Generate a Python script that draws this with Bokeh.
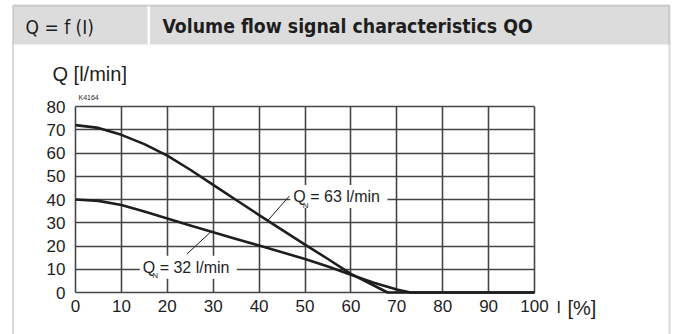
from bokeh.plotting import figure
from bokeh.models import Label, BoxAnnotation, FixedTicker, Range1d, LinearAxis, Grid
from bokeh.embed import file_html
from bokeh.resources import INLINE

# ---- data ----
i_63 = [0, 5, 10, 15, 20, 25, 30, 35, 40, 45, 50, 55, 60, 65, 68, 100]
q_63 = [72, 70.8, 67.8, 63.8, 58.9, 52.8, 46.3, 39.8, 33.3, 26.9, 20.6, 14.4, 8.0, 3.0, 0, 0]

i_32 = [0, 5, 10, 15, 20, 25, 30, 35, 40, 45, 50, 55, 60, 65, 70, 73, 100]
q_32 = [40, 39.4, 37.6, 34.8, 31.8, 28.8, 25.9, 23.0, 20.2, 17.3, 14.4, 11.2, 7.6, 4.2, 1.3, 0, 0]

x_ticks = [0, 10, 20, 30, 40, 50, 60, 70, 80, 90, 100]
y_ticks = [0, 10, 20, 30, 40, 50, 60, 70, 80]

leader_63_x = [46.6, 42.0]
leader_63_y = [41.5, 31.2]
leader_32_x = [24.3, 29.6]
leader_32_y = [16.6, 26.3]

label_63 = "Q  = 63 l/min"
label_32 = "Q  = 32 l/min"
header_left = "Q = f (I)"
header_title = "Volume flow signal characteristics QO"

FONT = "Liberation Sans"
NARROW = "'Liberation Sans Narrow', 'DejaVu Sans Condensed', sans-serif"
INK = "#1e1e1e"
GRID = "#454545"

W, H = 676, 334
# plot area placement on the canvas (pixels): x 0..100 -> 75..534, y 0..80 -> 292..106
PX0, PX1, PY0, PY1 = 75.0, 534.0, 292.0, 106.0
sx = (PX1 - PX0) / 100.0
sy = (PY0 - PY1) / 80.0
x_range = Range1d(-PX0 / sx, (W - PX0) / sx)
y_range = Range1d(-(H - PY0) / sy, PY0 / sy)

p = figure(width=W, height=H, x_range=x_range, y_range=y_range,
           output_backend="svg", toolbar_location=None, title=None,
           x_axis_location=None, y_axis_location=None, min_border=0)
p.background_fill_color = "white"
p.border_fill_color = "white"
p.outline_line_color = None
for r in list(p.center):
    if isinstance(r, Grid):
        p.center.remove(r)

# page frame and header band (screen units, origin bottom-left of the canvas)
p.add_layout(BoxAnnotation(left=13, right=669, top=H - 5, bottom=H - 44,
                           left_units="screen", right_units="screen", top_units="screen", bottom_units="screen",
                           fill_color="#dcdcdc", fill_alpha=1, line_color=None, level="underlay"))
p.add_layout(BoxAnnotation(left=147, right=149.5, top=H - 5, bottom=H - 44,
                           left_units="screen", right_units="screen", top_units="screen", bottom_units="screen",
                           fill_color="white", fill_alpha=1, line_color=None, level="underlay"))
p.add_layout(BoxAnnotation(left=12.5, right=669, top=H - 5, bottom=-20,
                           left_units="screen", right_units="screen", top_units="screen", bottom_units="screen",
                           fill_alpha=0, line_color="#7f7f7f", line_width=2, level="underlay"))

# grid
has_cross = "cross_bounds" in Grid.properties()
if has_cross:
    p.add_layout(Grid(dimension=0, ticker=FixedTicker(ticks=x_ticks), bounds=(0, 100),
                      cross_bounds=(0, 80), grid_line_color=GRID, grid_line_width=1.6))
    p.add_layout(Grid(dimension=1, ticker=FixedTicker(ticks=y_ticks), bounds=(0, 80),
                      cross_bounds=(0, 100), grid_line_color=GRID, grid_line_width=1.6))
else:
    p.segment(x0=x_ticks, y0=[0] * len(x_ticks), x1=x_ticks, y1=[80] * len(x_ticks),
              line_color=GRID, line_width=1.6)
    p.segment(x0=[0] * len(y_ticks), y0=y_ticks, x1=[100] * len(y_ticks), y1=y_ticks,
              line_color=GRID, line_width=1.6)

# axes pinned at the data origin
xa = LinearAxis(fixed_location=0, ticker=FixedTicker(ticks=x_ticks), bounds=(0, 100))
ya = LinearAxis(fixed_location=0, ticker=FixedTicker(ticks=y_ticks), bounds=(0, 80))
for ax in (xa, ya):
    ax.axis_line_color = None
    ax.major_tick_line_color = None
    ax.minor_tick_line_color = None
    ax.major_tick_out = 0
    ax.major_tick_in = 0
    ax.major_label_text_font = FONT
    ax.major_label_text_font_size = "17px"
    ax.major_label_text_color = INK
ya.major_label_standoff = 10
xa.major_label_standoff = 7
p.add_layout(xa, "below")
p.add_layout(ya, "left")

p.line(i_63, q_63, line_color=INK, line_width=2.6, line_join="round")
p.line(i_32, q_32, line_color=INK, line_width=2.6, line_join="round")
p.line(leader_63_x, leader_63_y, line_color=INK, line_width=1)
p.line(leader_32_x, leader_32_y, line_color=INK, line_width=1)

# curve labels
p.add_layout(Label(x=46.8, y=40, y_offset=3, text=label_63, text_font=FONT, text_font_size="16px",
                   text_color=INK, text_baseline="middle", background_fill_color="white", padding=3))
p.add_layout(Label(x=46.8, y=40, x_offset=12.5, y_offset=-5.5, text="N", text_font=FONT,
                   text_font_size="8px", text_color=INK, text_baseline="middle"))
p.add_layout(Label(x=14.0, y=10, y_offset=2, text=label_32, text_font=FONT, text_font_size="16px",
                   text_color=INK, text_baseline="middle", background_fill_color="white", padding=3))
p.add_layout(Label(x=14.0, y=10, x_offset=12.5, y_offset=-6.5, text="N", text_font=FONT,
                   text_font_size="8px", text_color=INK, text_baseline="middle"))

def screen_label(x, y, text, **kw):
    p.add_layout(Label(x=x, y=H - y, x_units="screen", y_units="screen", text=text, text_color=INK,
                       text_baseline="middle", **kw))

screen_label(52, 73, "Q [l/min]", text_font=FONT, text_font_size="20px")
screen_label(78, 97, "K4164", text_font=FONT, text_font_size="7px")
screen_label(556, 307, "I", text_font=FONT, text_font_size="16px")
screen_label(567, 307, "[%]", text_font=FONT, text_font_size="20px")
screen_label(25, 26, header_left, text_font=NARROW, text_font_size="19px")
screen_label(162, 26, header_title, text_font=NARROW, text_font_style="bold", text_font_size="19.3px")

open("out.html", "w").write(file_html(p, INLINE))
